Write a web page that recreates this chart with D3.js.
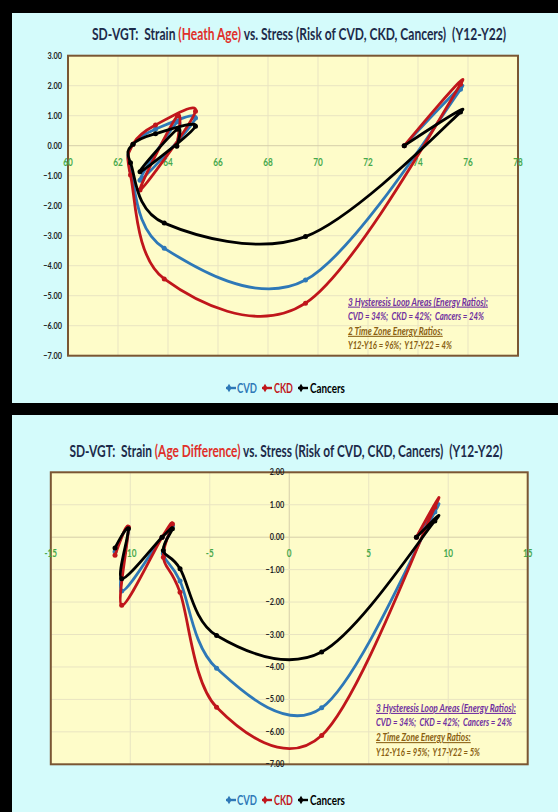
<!DOCTYPE html>
<html>
<head>
<meta charset="utf-8">
<script src="https://cdn.jsdelivr.net/npm/d3@7"></script>
<style>
  body { margin: 0; background: #000; }
  svg { display: block; }
  text { font-family: Lato, "Liberation Sans", sans-serif; white-space: pre; }
</style>
</head>
<body>
<div id="chart"></div>
<script>
// years of the trajectory
const years = ["Y12", "Y13", "Y14", "Y15", "Y16", "Y17", "Y18", "Y19", "Y20", "Y21", "Y22"];

// top chart: strain = health age, stress = risk
const healthAge = [73.45, 75.7, 69.5, 63.85, 62.5, 62.6, 63.5, 65.1, 62.88, 64.38, 64.35];
const riskCvd1 = [0.0, 1.88, -4.48, -3.42, -0.8, 0.05, 0.55, 0.92, -1.15, 0.8, 0.0];
const riskCkd1 = [0.0, 2.05, -5.25, -4.44, -0.98, 0.05, 0.69, 1.15, -1.48, 1.0, 0.0];
const riskCancers1 = [0.0, 1.12, -3.03, -2.58, -0.57, 0.05, 0.4, 0.65, -0.87, 0.55, -0.02];

// bottom chart: strain = age difference
const ageDiff = [8.0, 9.16, 2.04, -4.57, -6.87, -7.92, -7.35, -8.0, -10.54, -10.12, -10.96];
const riskCvd2 = [0.0, 0.78, -5.26, -4.04, -1.35, -0.5, 0.35, 0.0, -1.66, 0.28, -0.45];
const riskCkd2 = [0.0, 0.93, -6.11, -5.24, -1.7, -0.62, 0.41, 0.0, -2.1, 0.31, -0.56];
const riskCancers2 = [0.0, 0.5, -3.54, -3.03, -0.97, -0.41, 0.26, 0.0, -1.28, 0.26, -0.33];

const seriesNames = ["CVD", "CKD", "Cancers"];
const seriesColors = ["#2e78b7", "#c0161b", "#000000"];

const xTicks1 = d3.range(60, 79, 2);
const yTicks1 = d3.range(-7, 4, 1);
const xTicks2 = d3.range(-15, 16, 5);
const yTicks2 = d3.range(-7, 3, 1);

const notes1 = ["3 Hysteresis Loop Areas (Energy Ratios):", "CVD = 34%;  CKD = 42%;  Cancers = 24%",
                "2 Time Zone Energy Ratios:", "Y12-Y16 = 96%;  Y17-Y22 = 4%"];
const notes2 = ["3 Hysteresis Loop Areas (Energy Ratios):", "CVD = 34%;  CKD = 42%;  Cancers = 24%",
                "2 Time Zone Energy Ratios:", "Y12-Y16 = 95%;  Y17-Y22 = 5%"];

const W = 558, H = 812;
const svg = d3.select("#chart").append("svg")
  .attr("width", W).attr("height", H);

svg.append("rect").attr("width", W).attr("height", H).attr("fill", "#000");

// squeeze a text horizontally (Calibri-like narrow look) to a given width
function squeeze(sel, x, y, width) {
  sel.attr("x", 0).attr("y", 0);
  const w = sel.node().getComputedTextLength();
  sel.attr("transform", `translate(${x},${y}) scale(${(width / w).toFixed(3)},1)`);
}
function narrow(sel, x, y, sx) {
  sel.attr("x", 0).attr("y", 0)
    .attr("transform", `translate(${x},${y}) scale(${sx},1)`);
}

function drawPanel(cfg) {
  const g = svg.append("g");
  g.append("rect")
    .attr("x", cfg.box[0]).attr("y", cfg.box[1])
    .attr("width", cfg.box[2]).attr("height", cfg.box[3])
    .attr("fill", "#d4fbfb");

  // title
  const title = g.append("text")
    .attr("text-anchor", "middle")
    .attr("font-size", 16.5).attr("font-weight", "bold")
    .attr("fill", "#1d2b4a");
  title.append("tspan").text(cfg.title[0]);
  title.append("tspan").attr("fill", "#e0302a").text(cfg.title[1]);
  title.append("tspan").text(cfg.title[2]);
  squeeze(title, cfg.titleX, cfg.titleY, cfg.titleLen);

  const x = d3.scaleLinear().domain(cfg.xDomain).range(cfg.xRange);
  const y = d3.scaleLinear().domain(cfg.yDomain).range(cfg.yRange);

  // plot area
  g.append("rect")
    .attr("x", cfg.xRange[0]).attr("y", cfg.yRange[1])
    .attr("width", cfg.xRange[1] - cfg.xRange[0])
    .attr("height", cfg.yRange[0] - cfg.yRange[1])
    .attr("fill", "#fefcc9");

  g.selectAll(".gx").data(cfg.xTicks).join("line")
    .attr("x1", d => x(d)).attr("x2", d => x(d))
    .attr("y1", cfg.yRange[0]).attr("y2", cfg.yRange[1])
    .attr("stroke", d => d === 0 ? "#d6ceaa" : "#e9e4c2").attr("stroke-width", 1);
  g.selectAll(".gy").data(cfg.yTicks).join("line")
    .attr("y1", d => y(d)).attr("y2", d => y(d))
    .attr("x1", cfg.xRange[0]).attr("x2", cfg.xRange[1])
    .attr("stroke", d => d === 0 ? "#d6ceaa" : "#e9e4c2").attr("stroke-width", 1);

  // border
  g.append("rect")
    .attr("x", cfg.xRange[0]).attr("y", cfg.yRange[1])
    .attr("width", cfg.xRange[1] - cfg.xRange[0])
    .attr("height", cfg.yRange[0] - cfg.yRange[1])
    .attr("fill", "none").attr("stroke", "#7a5633").attr("stroke-width", 2);

  // tick labels
  g.selectAll(".tx").data(cfg.xTicks).join("text")
    .attr("text-anchor", "middle")
    .attr("font-size", 10.5).attr("font-weight", "bold")
    .attr("fill", "#47a84b")
    .text(d => d)
    .each(function(d) { narrow(d3.select(this), x(d), y(0) + 20, 0.78); });
  g.selectAll(".ty").data(cfg.yTicks).join("text")
    .attr("text-anchor", "end")
    .attr("font-size", 8.5).attr("font-weight", "bold")
    .attr("fill", "#222")
    .text(d => d3.format(".2f")(d))
    .each(function(d) { narrow(d3.select(this), x(cfg.yAxisAt) - cfg.yLabelGap, y(d) + 3, 0.86); });

  // series
  const line = d3.line().curve(d3.curveCardinal.tension(0))
    .x(d => x(d[0])).y(d => y(d[1]));
  cfg.series.forEach((vals, i) => {
    const pts = cfg.xs.map((v, j) => [v, vals[j]]);
    g.append("path").datum(pts)
      .attr("d", line)
      .attr("fill", "none")
      .attr("stroke", seriesColors[i])
      .attr("stroke-width", 2.8)
      .attr("stroke-linejoin", "round");
    g.selectAll(".m" + i).data(pts).join("circle")
      .attr("cx", d => x(d[0])).attr("cy", d => y(d[1]))
      .attr("r", 2.5)
      .attr("fill", seriesColors[i]);
  });

  // notes
  const noteColors = ["#7030a0", "#7030a0", "#8a5f12", "#8a5f12"];
  cfg.notes.forEach((t, i) => {
    const nt = g.append("text")
      .attr("font-size", 10.5).attr("font-weight", "bold").attr("font-style", "italic")
      .attr("fill", noteColors[i])
      .attr("text-decoration", i % 2 === 0 ? "underline" : null)
      .text(t);
    squeeze(nt, cfg.noteX, cfg.noteY + i * 14.6, cfg.noteLens[i]);
  });

  // legend
  const markX = [226, 262, 298], textX = [237, 274, 310], textW = [20, 19, 35];
  seriesNames.forEach((n, i) => {
    const ly = cfg.legendY;
    g.append("line")
      .attr("x1", markX[i]).attr("x2", markX[i] + 10).attr("y1", ly).attr("y2", ly)
      .attr("stroke", seriesColors[i]).attr("stroke-width", 2.4);
    g.append("path")
      .attr("d", d3.symbol(d3.symbolDiamond, 22)())
      .attr("transform", `translate(${markX[i] + 3},${ly})`)
      .attr("fill", seriesColors[i]);
    const lt = g.append("text")
      .attr("font-size", 13).attr("font-weight", "bold")
      .attr("fill", seriesColors[i])
      .text(n);
    squeeze(lt, textX[i], ly + 4.5, textW[i]);
  });
}

drawPanel({
  box: [12, 13, 546, 390],
  title: ["SD-VGT:  Strain ", "(Heath Age)", " vs. Stress (Risk of CVD, CKD, Cancers)  (Y12-Y22)"],
  titleX: 299, titleY: 40, titleLen: 414,
  xDomain: [60, 78], xRange: [68, 518],
  yDomain: [-7, 3], yRange: [355.7, 55.7],
  xTicks: xTicks1, yTicks: yTicks1, yAxisAt: 60, yLabelGap: 6,
  xs: healthAge, series: [riskCvd1, riskCkd1, riskCancers1],
  notes: notes1, noteX: 348, noteY: 305.5, noteLens: [140, 136, 95, 104],
  legendY: 388
});

drawPanel({
  box: [12, 415, 546, 397],
  title: ["SD-VGT:  Strain ", "(Age Difference)", " vs. Stress (Risk of CVD, CKD, Cancers)  (Y12-Y22)"],
  titleX: 286, titleY: 457, titleLen: 434,
  xDomain: [-15, 15], xRange: [50.8, 527.7],
  yDomain: [-7, 2], yRange: [764.3, 472.3],
  xTicks: xTicks2, yTicks: yTicks2, yAxisAt: 0, yLabelGap: 5,
  xs: ageDiff, series: [riskCvd2, riskCkd2, riskCancers2],
  notes: notes2, noteX: 376, noteY: 711.8, noteLens: [140, 136, 95, 104],
  legendY: 800
});
</script>
</body>
</html>
